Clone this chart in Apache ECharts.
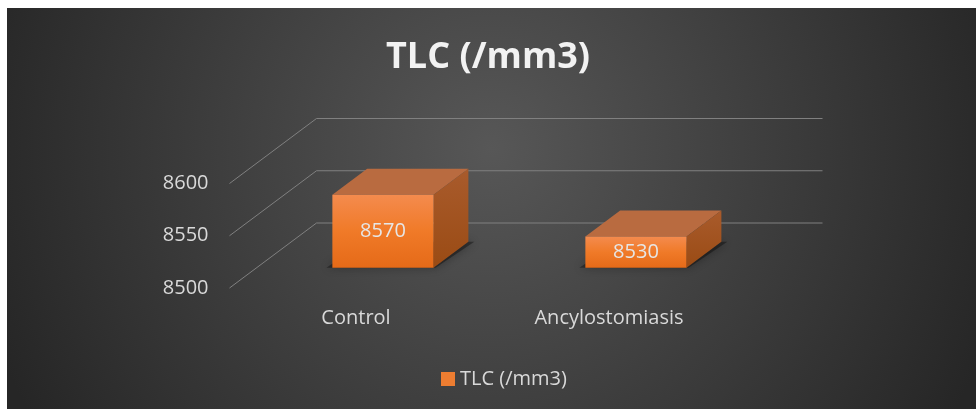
<!DOCTYPE html>
<html>
<head>
<meta charset="utf-8">
<script src="https://cdn.jsdelivr.net/npm/echarts@6/dist/echarts.min.js"></script>
<style>
  html, body { margin: 0; padding: 0; background: #fff; }
  #main { width: 976px; height: 409px; }
</style>
</head>
<body>
<div id="main"></div>
<script>
var categories = ['Control', 'Ancylostomiasis'];
var values = [8570, 8530];
var yTicks = [8500, 8550, 8600];
var seriesName = 'TLC (/mm3)';
var titleText = 'TLC (/mm3)';

var chartDom = document.getElementById('main');
var myChart = echarts.init(chartDom);
var option;

var FONT = '"Open Sans", "Noto Sans", sans-serif';
// perspective: offset of the full floor depth, and where the boxes sit in it
var DEPTH_X = 87, DEPTH_Y = -65;
var FRONT = 0.31, BACK = 0.71;

function renderGrid(params, api) {
  var cs = params.coordSys;
  var y = api.coord([0, api.value(1)])[1];
  return {
    type: 'polyline',
    shape: {
      points: [[cs.x, y], [cs.x + DEPTH_X, y + DEPTH_Y], [cs.x + cs.width + DEPTH_X, y + DEPTH_Y]]
    },
    style: { stroke: '#808080', lineWidth: 1, fill: null }
  };
}

function renderBox(params, api) {
  var top = api.coord([api.value(0), api.value(1)]);
  var base = api.coord([api.value(0), yTicks[0]]);
  var w = api.size([1, 0])[0] * 0.4;
  var x0 = top[0] - w / 2 + DEPTH_X * FRONT;
  var x1 = x0 + w;
  var yT = top[1] + DEPTH_Y * FRONT;
  var yB = base[1] + DEPTH_Y * FRONT;
  var bx = DEPTH_X * (BACK - FRONT), by = DEPTH_Y * (BACK - FRONT);
  return {
    type: 'group',
    children: [
      {
        type: 'polygon',
        shape: { points: [[x0 - 6, yB], [x1 + 2, yB], [x1 + bx + 6, yB + by], [x0 + bx - 2, yB + by]] },
        style: { fill: 'rgba(0,0,0,0.35)', shadowBlur: 10, shadowColor: 'rgba(0,0,0,0.9)' }
      },
      {
        type: 'polygon',
        shape: { points: [[x0, yT], [x0 + bx, yT + by], [x1 + bx, yT + by], [x1, yT]] },
        style: { fill: '#b96b40' }
      },
      {
        type: 'polygon',
        shape: { points: [[x1, yT], [x1 + bx, yT + by], [x1 + bx, yB + by], [x1, yB]] },
        style: {
          fill: new echarts.graphic.LinearGradient(0, 0, 0, 1, [
            { offset: 0, color: '#a95b2c' },
            { offset: 1, color: '#9a4b14' }
          ])
        }
      },
      {
        type: 'rect',
        shape: { x: x0, y: yT, width: w, height: yB - yT },
        style: {
          fill: new echarts.graphic.LinearGradient(0, 0, 0, 1, [
            { offset: 0, color: '#f48b4e' },
            { offset: 0.5, color: '#f07a28' },
            { offset: 1, color: '#e56a18' }
          ])
        }
      },
      {
        type: 'text',
        style: {
          text: String(api.value(1)),
          x: (x0 + x1) / 2,
          y: (yT + yB) / 2,
          align: 'center',
          verticalAlign: 'middle',
          fill: '#e6e6e6',
          font: '20px ' + FONT
        }
      }
    ]
  };
}

option = {
  animation: false,
  backgroundColor: '#ffffff',
  graphic: [
    {
      type: 'rect',
      z: -10,
      silent: true,
      shape: { x: 7, y: 8, width: 969, height: 401 },
      style: {
        fill: new echarts.graphic.RadialGradient(0.5, 0.35, 1.33, [
          { offset: 0, color: '#575757' },
          { offset: 1, color: '#262626' }
        ])
      }
    }
  ],
  title: {
    text: titleText,
    left: 'center',
    top: 40,
    padding: 0,
    textStyle: { color: '#f2f2f2', fontSize: 36, fontWeight: 'bold', fontFamily: FONT }
  },
  legend: {
    data: [seriesName],
    left: 436,
    top: 364,
    icon: 'rect',
    itemWidth: 14,
    itemHeight: 14,
    itemGap: 6,
    textStyle: { color: '#d9d9d9', fontSize: 20, fontFamily: FONT }
  },
  grid: {
    left: 229.5,
    top: 183.5,
    width: 506,
    height: 104.5,
    outerBoundsMode: 'none'
  },
  xAxis: {
    type: 'category',
    data: categories,
    axisLine: { show: false },
    axisTick: { show: false },
    splitLine: { show: false },
    axisLabel: { color: '#d9d9d9', fontSize: 20, margin: 20, fontFamily: FONT }
  },
  yAxis: {
    type: 'value',
    min: yTicks[0],
    max: yTicks[yTicks.length - 1],
    interval: yTicks[1] - yTicks[0],
    axisLine: { show: false },
    axisTick: { show: false },
    splitLine: { show: false },
    axisLabel: {
      color: '#d9d9d9', fontSize: 20, margin: 21, fontFamily: FONT,
      formatter: function (v) { return String(v); }
    }
  },
  series: [
    {
      name: 'gridlines',
      type: 'custom',
      clip: false,
      silent: true,
      z: 1,
      renderItem: renderGrid,
      data: yTicks.map(function (t) { return [0, t]; })
    },
    {
      name: seriesName,
      type: 'custom',
      clip: false,
      z: 3,
      itemStyle: { color: '#ed7d31' },
      renderItem: renderBox,
      data: values.map(function (v, i) { return [i, v]; })
    }
  ]
};

option && myChart.setOption(option);
</script>
</body>
</html>
